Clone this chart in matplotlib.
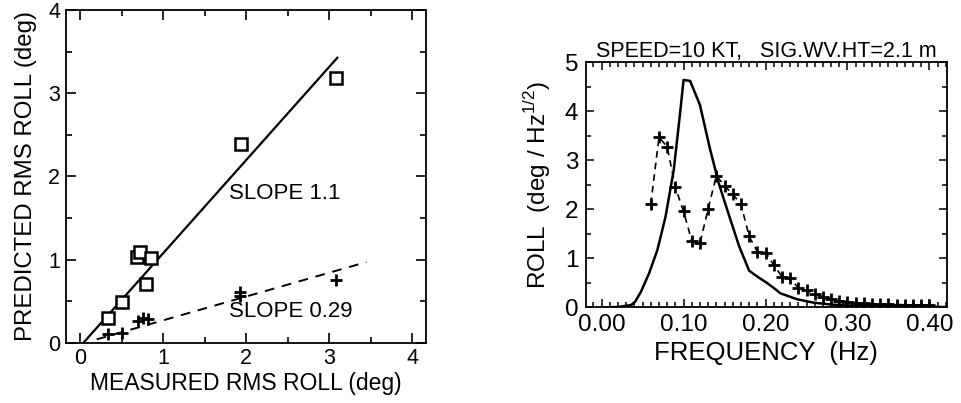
import matplotlib
matplotlib.use("Agg")
import matplotlib.pyplot as plt
import numpy as np
from matplotlib.ticker import MultipleLocator

plt.rcParams['font.family'] = ['Liberation Sans', 'DejaVu Sans']

# ---------- Left panel data ----------
meas_sq = [0.34, 0.50, 0.69, 0.72, 0.79, 0.86, 1.94, 3.08]
pred_sq = [0.30, 0.49, 1.03, 1.09, 0.70, 1.02, 2.39, 3.18]
meas_plus = [0.33, 0.50, 0.70, 0.76, 0.82, 1.93, 1.93, 3.08]
pred_plus = [0.10, 0.12, 0.26, 0.30, 0.28, 0.61, 0.56, 0.75]
fit1_x = [0.04, 3.10]
fit1_slope, fit1_icpt = 1.12, -0.045
fit2_x = [0.20, 3.45]
fit2_slope, fit2_icpt = 0.286, -0.017

# ---------- Right panel data ----------
freq_pred = [0.000, 0.020, 0.036, 0.041, 0.048, 0.058, 0.068, 0.078, 0.088, 0.096,
             0.100, 0.108, 0.120, 0.132, 0.143, 0.156, 0.168, 0.180, 0.190, 0.200,
             0.210, 0.218, 0.238, 0.258, 0.280, 0.300, 0.340, 0.420]
roll_pred = [0.00, 0.01, 0.05, 0.12, 0.32, 0.70, 1.17, 1.85, 2.80, 4.00,
             4.64, 4.62, 4.13, 3.25, 2.53, 1.85, 1.24, 0.75, 0.63, 0.52,
             0.40, 0.29, 0.17, 0.10, 0.06, 0.04, 0.02, 0.01]
freq_meas = [0.06, 0.07, 0.08, 0.09, 0.10, 0.11, 0.12, 0.13, 0.14, 0.15,
             0.16, 0.17, 0.18, 0.19, 0.20, 0.21, 0.22, 0.23, 0.24, 0.25,
             0.26, 0.27, 0.28, 0.29, 0.30, 0.31, 0.32, 0.33, 0.34, 0.35,
             0.36, 0.37, 0.38, 0.39, 0.40]
roll_meas = [2.11, 3.47, 3.28, 2.45, 1.96, 1.36, 1.31, 2.01, 2.69, 2.48,
             2.31, 2.11, 1.45, 1.14, 1.12, 0.87, 0.63, 0.60, 0.40, 0.35,
             0.27, 0.22, 0.18, 0.14, 0.12, 0.10, 0.09, 0.08, 0.07, 0.07,
             0.06, 0.06, 0.05, 0.05, 0.05]

title_txt = "SPEED=10 KT,   SIG.WV.HT=2.1 m"

fig = plt.figure(figsize=(9.61, 4.03), dpi=100)

# ---------- Left ----------
ax1 = fig.add_axes([0.0687, 0.1496, 0.3743, 0.8254])
x1 = np.array(fit1_x)
ax1.plot(x1, fit1_slope * x1 + fit1_icpt, color='black', lw=1.6)
x2 = np.array(fit2_x)
ax1.plot(x2, fit2_slope * x2 + fit2_icpt, color='black', lw=1.4, ls=(0, (5, 4)))
ax1.plot(meas_sq, pred_sq, ls='none', marker='s', ms=9, mfc='white', mec='black', mew=1.8)
ax1.plot(meas_plus, pred_plus, ls='none', marker='+', ms=8, mec='black', mew=2.0)
ax1.text(1.79, 1.79, "SLOPE 1.1", fontsize=16, va='center', ha='left')
ax1.text(1.80, 0.37, "SLOPE 0.29", fontsize=16, va='center', ha='left')
ax1.set_xlim(-0.17, 4.165)
ax1.set_ylim(0, 4.0)
ax1.xaxis.set_major_locator(MultipleLocator(1))
ax1.xaxis.set_minor_locator(MultipleLocator(0.5))
ax1.yaxis.set_major_locator(MultipleLocator(1))
ax1.yaxis.set_minor_locator(MultipleLocator(0.5))
ax1.tick_params(which='both', direction='in', top=True, right=True, width=1.2)
ax1.tick_params(which='major', length=7, labelsize=15.5)
ax1.tick_params(which='minor', length=4)
ax1.tick_params(axis='x', pad=4)
ax1.tick_params(axis='y', pad=4.3)
ax1.set_xlabel("MEASURED RMS ROLL (deg)", fontsize=16.5)
ax1.set_ylabel("PREDICTED RMS ROLL (deg)", fontsize=17.3)
ax1.xaxis.set_label_coords(0.5, -0.142)
ax1.yaxis.set_label_coords(-0.11, 0.5)
ax1.xaxis.label.set_va('baseline')
ax1.yaxis.label.set_va('center')
for s in ax1.spines.values():
    s.set_linewidth(1.3)

# ---------- Right ----------
ax2 = fig.add_axes([0.6098, 0.237, 0.3753, 0.6084])
ax2.plot(freq_pred, roll_pred, color='black', lw=1.8)
ax2.plot(freq_meas, roll_meas, color='black', lw=1.2, ls=(0, (4, 3)),
         marker='+', ms=8, mew=2.0)
ax2.set_xlim(-0.019, 0.421)
ax2.set_ylim(0, 5)
ax2.xaxis.set_major_locator(MultipleLocator(0.1))
ax2.xaxis.set_minor_locator(MultipleLocator(0.01))
ax2.yaxis.set_major_locator(MultipleLocator(1))
ax2.yaxis.set_minor_locator(MultipleLocator(0.5))
ax2.xaxis.set_major_formatter(matplotlib.ticker.FormatStrFormatter('%.2f'))
ax2.tick_params(which='both', direction='in', top=True, right=True, width=1.1)
ax2.tick_params(which='major', length=6, labelsize=17.5)
ax2.tick_params(which='minor', length=3.5)
ax2.tick_params(axis='x', pad=4.5)
ax2.tick_params(axis='y', pad=5.5)
ax2.set_xlabel("FREQUENCY  (Hz)", fontsize=18.5)
ax2.set_ylabel(r"ROLL  (deg / Hz$^{\mathregular{1/2}}$)", fontsize=17.5)
ax2.xaxis.set_label_coords(0.5, -0.214)
ax2.yaxis.set_label_coords(-0.133, 0.5)
ax2.xaxis.label.set_va('baseline')
ax2.yaxis.label.set_va('center')
ax2.set_title(title_txt, fontsize=15.5, pad=4)
for s in ax2.spines.values():
    s.set_linewidth(1.3)

fig.savefig("out.png", dpi=100)
